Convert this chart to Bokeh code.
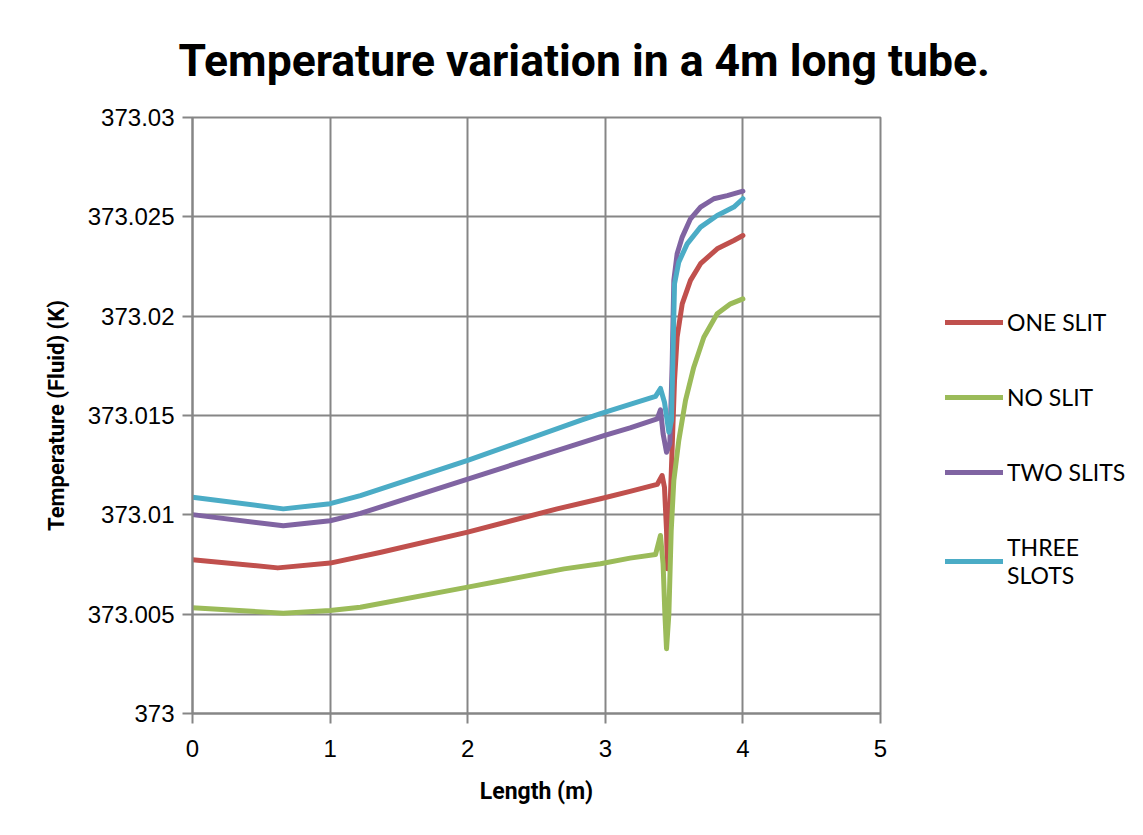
from bokeh.plotting import figure
from bokeh.models import (Range1d, FixedTicker, CustomJSTickFormatter, Legend, LegendItem, Title)
from bokeh.embed import file_html
from bokeh.resources import INLINE

# ---------------- data ----------------
one_x = [0, 0.62, 1.0, 1.37, 2.0, 2.65, 2.965, 3.18, 3.377, 3.413, 3.43, 3.445, 3.451,
         3.469, 3.486, 3.503, 3.522, 3.559, 3.619, 3.692, 3.813, 3.934, 4.0]
one_y = [373.00774, 373.00733, 373.00757, 373.00812, 373.00913, 373.01030, 373.01081,
         373.01118, 373.01153, 373.01198, 373.01139, 373.00921, 373.00728, 373.01005,
         373.01340, 373.01676, 373.01894, 373.02062, 373.02180, 373.02264, 373.02339,
         373.02381, 373.02406]

no_x = [0, 0.66, 1.0, 1.22, 2.0, 2.70, 2.965, 3.18, 3.365, 3.401, 3.42, 3.433, 3.445,
        3.462, 3.479, 3.498, 3.534, 3.583, 3.643, 3.716, 3.813, 3.91, 4.0]
no_y = [373.00532, 373.00505, 373.00518, 373.00535, 373.00636, 373.00728, 373.00754,
        373.00782, 373.00800, 373.00896, 373.00754, 373.00502, 373.00326, 373.00502,
        373.00921, 373.01173, 373.01374, 373.01576, 373.01743, 373.01894, 373.02012,
        373.02062, 373.02087]

two_x = [0, 0.66, 1.0, 1.22, 2.0, 2.99, 3.18, 3.377, 3.401, 3.42, 3.445, 3.469, 3.486,
         3.498, 3.522, 3.559, 3.619, 3.692, 3.789, 3.886, 4.0]
two_y = [373.01001, 373.00945, 373.00970, 373.01007, 373.01180, 373.01399, 373.01438,
         373.01483, 373.01529, 373.01408, 373.01315, 373.01358, 373.01760, 373.02180,
         373.02314, 373.02398, 373.02490, 373.02549, 373.02591, 373.02607, 373.02629]

three_x = [0, 0.66, 1.0, 1.22, 2.0, 2.82, 2.965, 3.365, 3.401, 3.43, 3.462, 3.481, 3.493,
           3.503, 3.534, 3.595, 3.692, 3.813, 3.934, 4.0]
three_y = [373.01089, 373.01030, 373.01056, 373.01097, 373.01274, 373.01475, 373.01509,
           373.01596, 373.01636, 373.01567, 373.01416, 373.01475, 373.01844, 373.02163,
           373.02272, 373.02364, 373.02448, 373.02507, 373.02549, 373.02591]

series_names = ["ONE SLIT", "NO SLIT", "TWO SLITS", "THREE\nSLOTS"]
series_colors = ["#C0504D", "#9BBB59", "#8064A2", "#4BACC6"]
x_ticks = [0, 1, 2, 3, 4, 5]
y_ticks = [373.0, 373.005, 373.01, 373.015, 373.02, 373.025, 373.03]

title_text = "Temperature variation in a 4m long tube."
x_label = "Length (m)"
y_label = "Temperature (Fluid) (K)"

# ---------------- figure ----------------
p = figure(frame_width=688, frame_height=596, output_backend="svg", toolbar_location=None,
           x_range=Range1d(0, 5), y_range=Range1d(373.0, 373.03),
           min_border_left=192, min_border_right=0, min_border_top=117,
           min_border_bottom=119)
p.background_fill_color = "white"
p.border_fill_color = "white"
p.outline_line_color = "#868686"
p.outline_line_width = 2

t = Title(text=title_text, align="left", text_font="Roboto",
          text_font_style="bold", text_font_size="44.5px", text_color="black",
          standoff=61, offset=-14)
p.add_layout(t, "above")

for ax in (p.xaxis[0], p.yaxis[0]):
    ax.axis_line_color = "#868686"
    ax.axis_line_width = 2
    ax.major_tick_line_color = "#868686"
    ax.major_tick_line_width = 2
    ax.major_tick_out = 10
    ax.major_tick_in = 0
    ax.minor_tick_line_color = None
    ax.major_label_text_font = "Liberation Sans"
    ax.major_label_text_font_size = "24px"
    ax.major_label_text_color = "black"
    ax.axis_label_text_font = "Roboto"
    ax.axis_label_text_font_style = "bold"
    ax.axis_label_text_color = "black"

p.xaxis.axis_label_text_font_size = "23px"
p.yaxis.axis_label_text_font_size = "22px"
p.xaxis.ticker = FixedTicker(ticks=x_ticks)
p.yaxis.ticker = FixedTicker(ticks=y_ticks)
p.yaxis.formatter = CustomJSTickFormatter(code="return (Math.round(tick*1000)/1000).toString();")
p.xaxis.axis_label = x_label
p.yaxis.axis_label = y_label
p.xaxis.major_label_standoff = 16
p.yaxis.major_label_standoff = 8
p.xaxis.axis_label_standoff = 18
p.yaxis.axis_label_standoff = 16

p.xgrid.grid_line_color = "#868686"
p.ygrid.grid_line_color = "#868686"
p.xgrid.grid_line_width = 2
p.ygrid.grid_line_width = 2

items = []
for xs, ys, name, col in zip([one_x, no_x, two_x, three_x], [one_y, no_y, two_y, three_y],
                             series_names, series_colors):
    r = p.line(xs, ys, line_color=col, line_width=5, line_join="round", line_cap="round")
    items.append(LegendItem(label=name, renderers=[r]))

leg = Legend(items=items, location=(65, 124), orientation="vertical")
leg.border_line_color = None
leg.background_fill_alpha = 0
leg.padding = 0
leg.margin = 0
leg.glyph_width = 58
leg.glyph_height = 20
leg.label_height = 20
leg.spacing = 47
leg.label_standoff = 4
leg.label_text_font = "Lato"
leg.label_text_font_size = "23px"
leg.label_text_color = "black"
leg.label_text_baseline = "middle"
p.add_layout(leg, "right")

open("out.html", "w").write(file_html(p, INLINE))
